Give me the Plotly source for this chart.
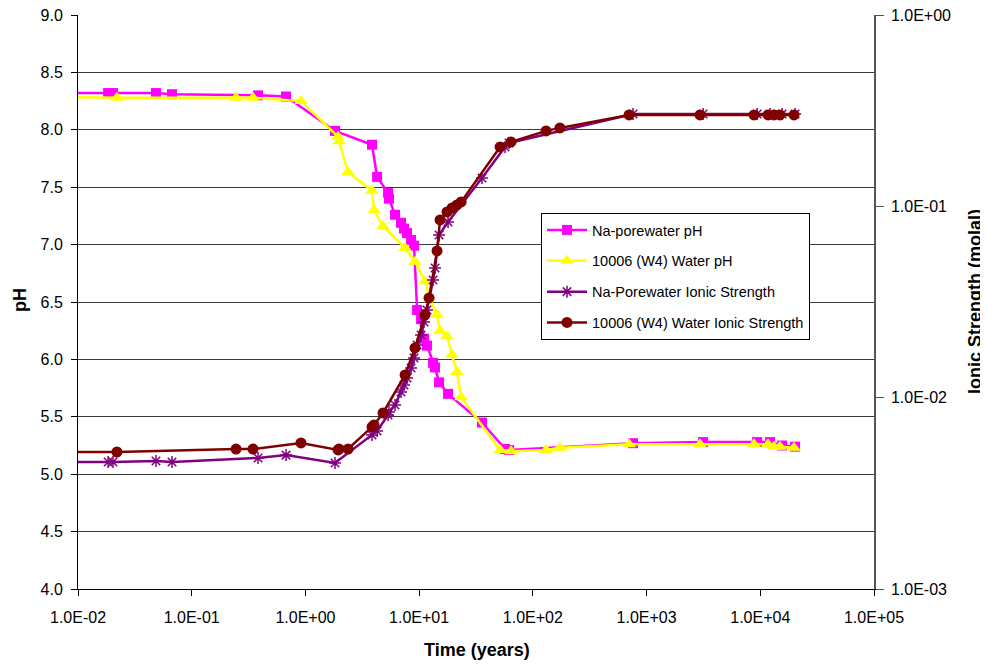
import plotly.graph_objects as go

# ---- Data ----
t_na = [0.008, 0.0184, 0.0203, 0.0485, 0.0671, 0.383, 0.675, 1.82, 3.85, 4.27, 5.33, 5.43,
        6.14, 6.93, 7.36, 7.83, 8.49, 9.02, 9.59, 10.4, 11.04, 11.73, 13.25, 13.8, 14.96,
        17.95, 35.7, 56.9, 61.8, 760, 3140, 9380, 12190, 15560, 20230]
ph_na = [8.32, 8.32, 8.32, 8.32, 8.31, 8.30, 8.29, 7.99, 7.87, 7.59, 7.45, 7.40,
         7.26, 7.19, 7.14, 7.10, 7.04, 6.99, 6.43, 6.35, 6.18, 6.12, 5.97, 5.93, 5.80,
         5.70, 5.45, 5.22, 5.21, 5.27, 5.28, 5.28, 5.28, 5.25, 5.24]
is_na = [0.00461, 0.00461, 0.00461, 0.00467, 0.00461, 0.00484, 0.00501, 0.00456, 0.00638,
         0.00670, 0.00812, 0.00842, 0.00916, 0.01071, 0.01165, 0.01268, 0.01430, 0.01612,
         0.01886, 0.02127, 0.02488, 0.02873, 0.04122, 0.04764, 0.07088, 0.08286, 0.1407,
         0.2044, 0.2144, 0.304, 0.304, 0.304, 0.304, 0.304, 0.304]

t_w4 = [0.008, 0.0220, 0.2455, 0.346, 0.914, 1.935, 1.975, 2.37, 3.85, 4.01, 4.81, 7.52,
        9.20, 11.27, 12.22, 14.37, 15.27, 17.59, 19.46, 21.5, 23.4, 51.5, 64.3, 130.6,
        173, 702, 2950, 8810, 11700, 13200, 14900, 19800]
ph_w4 = [8.285, 8.28, 8.28, 8.28, 8.25, 7.94, 7.90, 7.63, 7.47, 7.30, 7.16, 6.97,
         6.85, 6.68, 6.55, 6.39, 6.25, 6.20, 6.04, 5.89, 5.67, 5.21, 5.20, 5.21,
         5.23, 5.26, 5.26, 5.26, 5.26, 5.24, 5.24, 5.23]
is_w4 = [0.00520, 0.00520, 0.00539, 0.00539, 0.00580, 0.00533, 0.00539, 0.00539, 0.00703,
         0.00720, 0.00832, 0.01314, 0.01819, 0.02706, 0.03321, 0.05845, 0.08492, 0.09350,
         0.09813, 0.1017, 0.1055, 0.2044, 0.2172, 0.2479, 0.2570, 0.3004, 0.3004, 0.3004,
         0.3004, 0.3004, 0.3004, 0.3004]

x_tickvals = [1e-2, 1e-1, 1e0, 1e1, 1e2, 1e3, 1e4, 1e5]
x_ticktext = ["1.0E-02", "1.0E-01", "1.0E+00", "1.0E+01", "1.0E+02", "1.0E+03", "1.0E+04", "1.0E+05"]
y2_tickvals = [1e-3, 1e-2, 1e-1, 1e0]
y2_ticktext = ["1.0E-03", "1.0E-02", "1.0E-01", "1.0E+00"]

FONT = "Liberation Sans, Arial, sans-serif"

# page body has an 8px default margin; figure is sized to fit the window
OFF = 8
W, H = 988 - OFF, 664 - OFF
ML, MR, MT = 78 - OFF, 114, 15 - OFF
MB = H - (589 - OFF)

fig = go.Figure()
fig.add_trace(go.Scatter(x=t_na, y=ph_na, name="Na-porewater pH", mode="lines+markers",
                         line=dict(color="#FF00FF", width=2.5),
                         marker=dict(symbol="square", size=10, color="#FF00FF"),
                         legendgroup="a"))
fig.add_trace(go.Scatter(x=t_w4, y=ph_w4, name="10006 (W4) Water pH", mode="lines+markers",
                         line=dict(color="#FFFF00", width=2.5),
                         marker=dict(symbol="triangle-up", size=12, color="#FFFF00"),
                         legendgroup="b"))
fig.add_trace(go.Scatter(x=t_na, y=is_na, name="Na-Porewater Ionic Strength", mode="lines+markers",
                         yaxis="y2",
                         line=dict(color="#800080", width=2.5),
                         marker=dict(symbol="asterisk-open", size=10, color="#800080",
                                     line=dict(color="#800080", width=1.5)),
                         legendgroup="c"))
fig.add_trace(go.Scatter(x=t_w4, y=is_w4, name="10006 (W4) Water Ionic Strength", mode="lines+markers",
                         yaxis="y2",
                         line=dict(color="#800000", width=2.5),
                         marker=dict(symbol="circle", size=11, color="#800000"),
                         legendgroup="d"))

pw = W - ML - MR
ph_ = H - MT - MB


def px(xp):
    return (xp - OFF - ML) / pw


def py(yp):
    return (H - MB - (yp - OFF)) / ph_


fig.update_layout(
    width=W, height=H,
    margin=dict(l=ML, r=MR, t=MT, b=MB, autoexpand=False),
    paper_bgcolor="white", plot_bgcolor="white",
    font=dict(family=FONT, size=16, color="black"),
    showlegend=True,
    legend=dict(x=px(541), y=py(213), xanchor="left", yanchor="top",
                bgcolor="white", bordercolor="black", borderwidth=1,
                font=dict(family=FONT, size=14.5, color="black"),
                tracegroupgap=9, itemwidth=40),
    xaxis=dict(type="log", range=[-2, 5], tickvals=x_tickvals, ticktext=x_ticktext,
               showgrid=False, showline=True, linecolor="black", linewidth=1,
               ticks="outside", ticklen=6, tickcolor="black", zeroline=False,
               ticklabelstandoff=8, automargin=False, ticklabeloverflow="allow",
               tickfont=dict(size=16)),
    yaxis=dict(range=[4, 9], dtick=0.5, tick0=4, tickformat=".1f",
               showgrid=True, gridcolor="#3a3a3a", gridwidth=1,
               showline=True, linecolor="black", linewidth=1,
               ticks="outside", ticklen=6, tickcolor="black", zeroline=False,
               ticklabelstandoff=5, automargin=False, ticklabeloverflow="allow",
               tickfont=dict(size=16)),
    yaxis2=dict(type="log", range=[-3, 0], overlaying="y", side="right",
                tickvals=y2_tickvals, ticktext=y2_ticktext,
                showgrid=False, showline=True, linecolor="#555555", linewidth=1.5,
                ticks="outside", ticklen=8, tickcolor="#555555", zeroline=False,
                ticklabelstandoff=4, automargin=False, ticklabeloverflow="allow",
                tickfont=dict(size=16)),
    annotations=[
        dict(text="<b>pH</b>", x=px(20), y=py(300), xref="paper", yref="paper", showarrow=False,
             textangle=-90, font=dict(size=18), xanchor="center", yanchor="middle"),
        dict(text="<b>Time (years)</b>", x=px(477), y=py(650), xref="paper", yref="paper",
             showarrow=False, font=dict(size=18), xanchor="center", yanchor="middle"),
        dict(text="<b>Ionic Strength (molal)</b>", x=px(975), y=py(302), xref="paper", yref="paper",
             showarrow=False, textangle=-90, font=dict(size=18), xanchor="center", yanchor="middle"),
    ],
)

fig.write_html("out.html")
